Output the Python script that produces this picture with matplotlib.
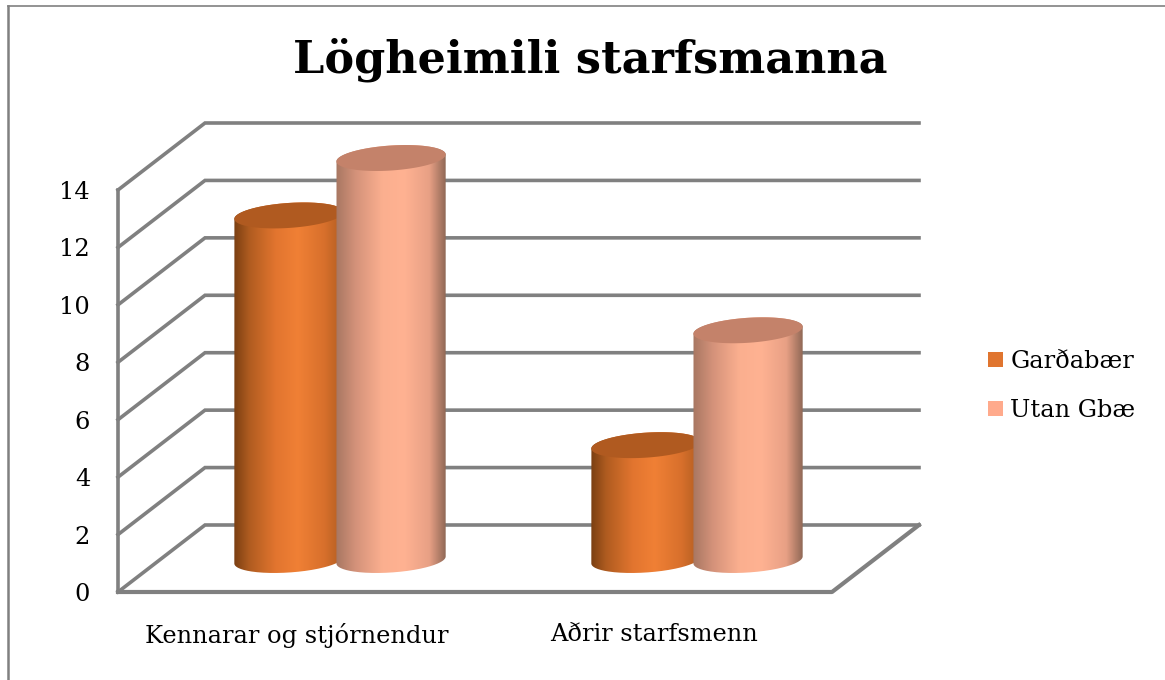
import numpy as np
import matplotlib
matplotlib.use("Agg")
import matplotlib.pyplot as plt
from matplotlib.lines import Line2D
from matplotlib.patches import PathPatch, Patch
from matplotlib.path import Path
from matplotlib.colors import to_rgb

# Data
categories = ["Kennarar og stjórnendur", "Aðrir starfsmenn"]
series_names = ["Garðabær", "Utan Gbæ"]
gardabaer = [12, 4]
utan_gbae = [14, 8]
y_ticks = [0, 2, 4, 6, 8, 10, 12, 14]
title_text = "Lögheimili starfsmanna"

# Figure and front plane of the fake 3-D box
W, H = 1165, 680
fig = plt.figure(figsize=(W / 100, H / 100), dpi=100, facecolor="white")
L, R, B, T = 118, 832, 592, 190
ax = fig.add_axes([L / W, 1 - B / H, (R - L) / W, (B - T) / H])
ax.set_xlim(0, len(categories))
ax.set_ylim(0, 14)
ax.patch.set_visible(False)
for s in ax.spines.values():
    s.set_visible(False)

FONT = "DejaVu Serif"
FS = 17.4
GRID = "#808080"
LW = 2.6
px_x = (R - L) / len(categories)
px_y = (B - T) / 14
DX = 87 / px_x       # depth offset of back wall, x units
DY = 67 / px_y       # depth offset of back wall, value units
MX, MY = DX / 2, 32 / px_y  # bars stand about half way back

# walls and floor
for v in y_ticks:
    ax.plot([0, DX, 2 + DX], [v, v + DY, v + DY], color=GRID, lw=LW, clip_on=False,
            solid_joinstyle="miter", zorder=1)
ax.plot([0, 0], [0, 14], color=GRID, lw=LW, clip_on=False, zorder=1)
ax.plot([0, 2, 2 + DX], [0, 0, DY], color=GRID, lw=LW + 0.4, clip_on=False, zorder=1)

# cylinders
A = 0.153            # half width, x units
E = 12.5 / px_y      # ellipse half height, value units
TILT = 3.5 / px_y    # ellipse tilt, value units


def ellipse(cx, cy, t):
    return cx + A * np.cos(t), cy + E * np.sin(t) + TILT * np.cos(t)


def gradient(stops):
    xs = np.linspace(0, 1, 256)
    pos = [p for p, _ in stops]
    cols = np.array([to_rgb(c) for _, c in stops])
    rgb = np.stack([np.interp(xs, pos, cols[:, i]) for i in range(3)], axis=-1)
    return rgb[np.newaxis, :, :]


orange_stops = [(0, "#7a3f12"), (0.14, "#b05c20"), (0.38, "#e2752f"), (0.58, "#f08035"),
                (0.82, "#d8702c"), (1, "#b05c20")]
pink_stops = [(0, "#a87762"), (0.18, "#d4927a"), (0.42, "#fbaf8f"), (0.62, "#ffb292"),
              (0.85, "#e8a085"), (1, "#906856")]
top_colors = ["#b05a20", "#c4826a"]


def cylinder(cx, value, stops, top_color, z):
    base = MY
    top = base + value
    t = np.linspace(0, -np.pi, 120)            # lower half of the base
    bx, by = ellipse(cx, base, t)
    tt = np.linspace(np.pi, 0, 120)            # top edge of the body
    ux, uy = ellipse(cx, top, tt)
    verts = np.column_stack([np.r_[bx, ux], np.r_[by, uy]])
    path = Path(verts, closed=False)
    im = ax.imshow(gradient(stops), extent=(cx - A, cx + A, base - E - TILT, top + E + TILT),
                   aspect="auto", zorder=z, interpolation="bilinear")
    clip = PathPatch(path, transform=ax.transData, fc="none", ec="none")
    ax.add_patch(clip)
    im.set_clip_path(clip)
    im.set_clip_box(fig.bbox)
    t2 = np.linspace(0, 2 * np.pi, 200)
    ex, ey = ellipse(cx, top, t2)
    ax.fill(ex, ey, color=top_color, lw=0, zorder=z + 0.1, clip_on=False)


group_off = 0.143
for i in range(len(categories)):
    gc = i + 0.5 + MX
    cylinder(gc - group_off, gardabaer[i], orange_stops, top_colors[0], 3)
    cylinder(gc + group_off, utan_gbae[i], pink_stops, top_colors[1], 4)

ax.set_xlim(0, len(categories))
ax.set_ylim(0, 14)

# ticks
ax.set_yticks(y_ticks)
ax.set_yticklabels([str(v) for v in y_ticks], fontfamily=FONT, fontsize=FS, color="black")
ax.set_xticks([i + 0.5 for i in range(len(categories))])
ax.set_xticklabels(categories, fontfamily=FONT, fontsize=FS, color="black")
ax.tick_params(axis="y", length=0, pad=20)
ax.tick_params(axis="x", length=0, pad=22)

fig.text(590 / W, 1 - 60 / H, title_text, ha="center", va="center",
         fontfamily=FONT, fontweight="bold", fontsize=32, color="black")

handles = [Patch(fc="#e0752f", ec="none"), Patch(fc="#ffaa8c", ec="none")]
fig.legend(handles, series_names, loc="center left",
           bbox_to_anchor=(988 / W, 1 - 386 / H), frameon=False,
           prop={"family": FONT, "size": FS}, handlelength=0.62, handleheight=0.62,
           handletextpad=0.3, labelspacing=1.08, borderpad=0, borderaxespad=0)

# chart-area border
fig.add_artist(Line2D([8 / W, 8 / W], [0, 1 - 6 / H], color=GRID, lw=1.8))
fig.add_artist(Line2D([8 / W, 1], [1 - 6 / H, 1 - 6 / H], color=GRID, lw=1.2))

fig.savefig("out.png", dpi=100)
